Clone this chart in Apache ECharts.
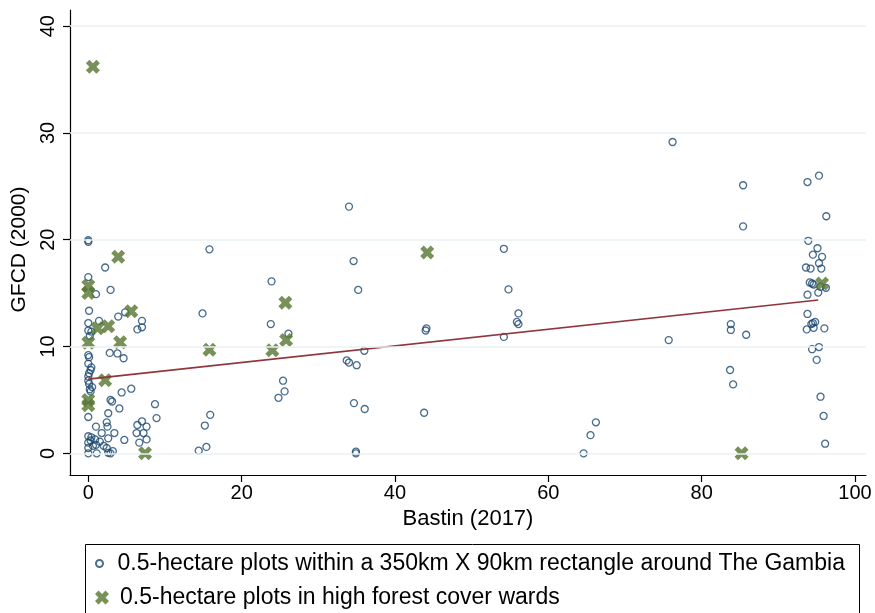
<!DOCTYPE html>
<html>
<head>
<meta charset="utf-8">
<script src="https://cdn.jsdelivr.net/npm/echarts@6/dist/echarts.min.js"></script>
<style>
  html, body { margin: 0; padding: 0; background: #fff; }
  #chart { width: 875px; height: 613px; }
</style>
</head>
<body>
<div id="chart"></div>
<script>
// hollow circles: all plots
const circleX = [
  0, 0, 15.8, 2.2, 0, 2.9, 1.0, 0.1, 14.9, 3.9, 4.8, 0, 1.4, 7.0, 7.0, 6.4, 0, 0.2, 0.4,
  0, 0.1, 2.8, 3.8, 4.6, 0, 0.4, 0.1, 0.3, 0, 0, 0.1, 0.5, 0.2, 0.3, 5.6, 4.35, 2.9, 3.1,
  8.7, 4.05, 2.6, 0, 8.9, 15.9, 15.2, 1.0, 2.4, 2.5, 6.4, 7.0, 7.6, 1.75, 3.4, 6.3, 7.2,
  0, 0.4, 0.9, 0.3, 2.6, 4.7, 6.65, 7.6, 0, 1.0, 1.5, 2.0, 2.4, 0, 0.6, 0, 1.1, 2.6, 2.9,
  3.2, 15.4, 14.4,
  34.0, 34.6, 23.9, 35.2, 23.8, 26.1, 44.0, 44.1, 36.0, 33.7, 34.0, 35.0, 25.4, 25.6, 24.8,
  34.65, 36.05, 43.8, 34.9, 34.9,
  76.2, 54.2, 54.8, 56.1, 55.9, 56.1, 54.2, 75.7, 66.2, 65.5, 64.6,
  85.4, 85.4, 95.3, 93.8, 96.25, 83.8, 83.8, 85.8, 83.7, 84.1,
  93.9, 95.1, 94.5, 95.7, 95.3, 95.6, 93.6, 94.2, 94.1, 94.4, 94.6, 95.5, 96.2, 93.8, 95.2,
  93.8, 94.5, 94.8, 94.3, 93.7, 94.6, 96.0, 95.3, 94.4, 95.0, 95.5, 95.9, 96.1
];
const circleY = [
  19.95, 19.8, 19.1, 17.4, 16.5, 15.3, 14.9, 13.35, 13.1, 12.8, 13.2, 12.2, 12.4, 12.4, 11.8, 11.6, 11.5, 11.0, 11.4,
  9.2, 9.0, 9.4, 9.35, 8.9, 8.4, 8.05, 7.5, 7.8, 7.2, 6.8, 6.5, 6.2, 6.0, 5.8, 6.05, 5.7, 5.0, 4.85,
  4.6, 4.2, 3.75, 3.4, 3.3, 3.6, 2.6, 2.5, 2.9, 2.5, 2.65, 3.0, 2.5, 1.9, 1.9, 1.9, 1.9,
  1.6, 1.5, 1.3, 1.2, 1.4, 1.25, 1.0, 1.3, 1.0, 0.8, 1.1, 0.7, 0.5, 0.5, 0.7, 0, 0, 0.05, 0,
  0.2, 0.6, 0.25,
  23.1, 18.0, 16.1, 15.3, 12.1, 11.2, 11.5, 11.7, 9.6, 8.7, 8.5, 8.25, 6.8, 5.8, 5.2,
  4.7, 4.15, 3.8, 0.15, 0.0,
  29.15, 19.15, 15.35, 13.1, 12.3, 12.1, 10.9, 10.6, 2.9, 1.7, 0,
  25.1, 21.25, 26.0, 25.4, 22.2, 12.1, 11.55, 11.1, 7.8, 6.45,
  19.9, 19.2, 18.6, 18.4, 17.8, 17.3, 17.4, 17.3, 16.0, 15.9, 15.8, 15.6, 15.5, 14.85, 15.05,
  13.05, 12.2, 12.3, 12.1, 11.6, 11.75, 11.7, 9.95, 9.75, 8.75, 5.3, 3.5, 0.9
];

// crosses: high forest cover wards
const crossX = [0.6, 3.9, 44.2, 0, 0, 5.6, 25.7, 1.2, 2.6, 4.15, 0, 15.8, 24.0, 25.8, 2.2, 0, 0, 7.4, 85.2, 95.7];
const crossY = [36.2, 18.4, 18.8, 15.7, 15.0, 13.3, 14.1, 11.7, 11.9, 10.4, 10.35, 9.7, 9.65, 10.6, 6.85, 5.0, 4.5, 0, 0, 15.9];

// fitted line end points
const fitX = [0, 95.2];
const fitY = [6.95, 14.35];

const xTicks = [0, 20, 40, 60, 80, 100];
const yTicks = [0, 10, 20, 30, 40];

const circleName = '0.5-hectare plots within a 350km X 90km rectangle around The Gambia';
const crossName = '0.5-hectare plots in high forest cover wards';

const navy = '#1a476f';
const green = '#55752f';
const maroon = '#90353b';
const gridCol = '#eaf2f3';
const font = 'Liberation Sans, Arial, sans-serif';

const crossPath = 'path://M0,2.5 L2.5,0 L5,2.5 L7.5,0 L10,2.5 L7.5,5 L10,7.5 L7.5,10 L5,7.5 L2.5,10 L0,7.5 L2.5,5 Z';

const chart = echarts.init(document.getElementById('chart'));

const option = {
  animation: false,
  backgroundColor: '#fff',
  textStyle: { fontFamily: font, color: '#000' },
  grid: { left: 70, right: 9, top: 10, bottom: 138 },
  xAxis: {
    type: 'value',
    min: -2.387,
    max: 101.43,
    name: 'Bastin (2017)',
    nameLocation: 'middle',
    nameGap: 31,
    nameTextStyle: { fontSize: 22, fontFamily: font, color: '#000' },
    axisLine: { onZero: false, lineStyle: { color: '#000', width: 1.2 } },
    axisTick: { customValues: xTicks, length: 7, lineStyle: { color: '#000', width: 1.2 } },
    axisLabel: { customValues: xTicks, margin: 8, fontSize: 20, fontFamily: font, color: '#000' },
    splitLine: { show: false }
  },
  yAxis: {
    type: 'value',
    min: -2.03,
    max: 41.51,
    name: 'GFCD (2000)',
    nameLocation: 'middle',
    nameRotate: 90,
    nameGap: 36,
    nameTextStyle: { fontSize: 21, fontFamily: font, color: '#000', padding: [0, 14, 0, 0] },
    axisLine: { onZero: false, lineStyle: { color: '#000', width: 1.2 } },
    axisTick: { customValues: yTicks, length: 7, lineStyle: { color: '#000', width: 1.2 } },
    axisLabel: { customValues: yTicks, rotate: 90, margin: 12, fontSize: 20, fontFamily: font, color: '#000' },
    splitLine: { show: false }
  },
  legend: [
    {
      data: [circleName],
      left: 95,
      top: 552,
      itemWidth: 26,
      itemHeight: 7,
      padding: 0,
      selectedMode: false,
      textStyle: { fontSize: 23, fontFamily: font, color: '#000' }
    },
    {
      data: [crossName],
      left: 95,
      top: 586,
      itemWidth: 26,
      itemHeight: 14,
      padding: 0,
      selectedMode: false,
      textStyle: { fontSize: 23, fontFamily: font, color: '#000' }
    }
  ],
  graphic: [
    {
      type: 'rect',
      left: 83,
      top: 542,
      shape: { width: 774, height: 100 },
      style: { fill: 'none', stroke: '#000', lineWidth: 1 }
    }
  ],
  series: [
    {
      type: 'line',
      data: [],
      silent: true,
      z: 1,
      markLine: {
        symbol: 'none',
        silent: true,
        label: { show: false },
        lineStyle: { color: gridCol, width: 1.5, type: 'solid' },
        data: yTicks.map(v => ({ yAxis: v }))
      }
    },
    {
      name: circleName,
      type: 'scatter',
      symbol: 'circle',
      symbolSize: 7,
      z: 2,
      itemStyle: { color: 'rgba(255,255,255,0)', borderColor: navy, borderWidth: 1.3 },
      data: circleX.map((x, i) => [x, circleY[i]])
    },
    {
      name: crossName,
      type: 'scatter',
      symbol: crossPath,
      symbolSize: 14,
      z: 3,
      itemStyle: { color: green },
      data: crossX.map((x, i) => [x, crossY[i]])
    },
    {
      type: 'line',
      z: 4,
      symbol: 'none',
      lineStyle: { color: maroon, width: 1.6 },
      data: fitX.map((x, i) => [x, fitY[i]])
    }
  ]
};

chart.setOption(option);
</script>
</body>
</html>
